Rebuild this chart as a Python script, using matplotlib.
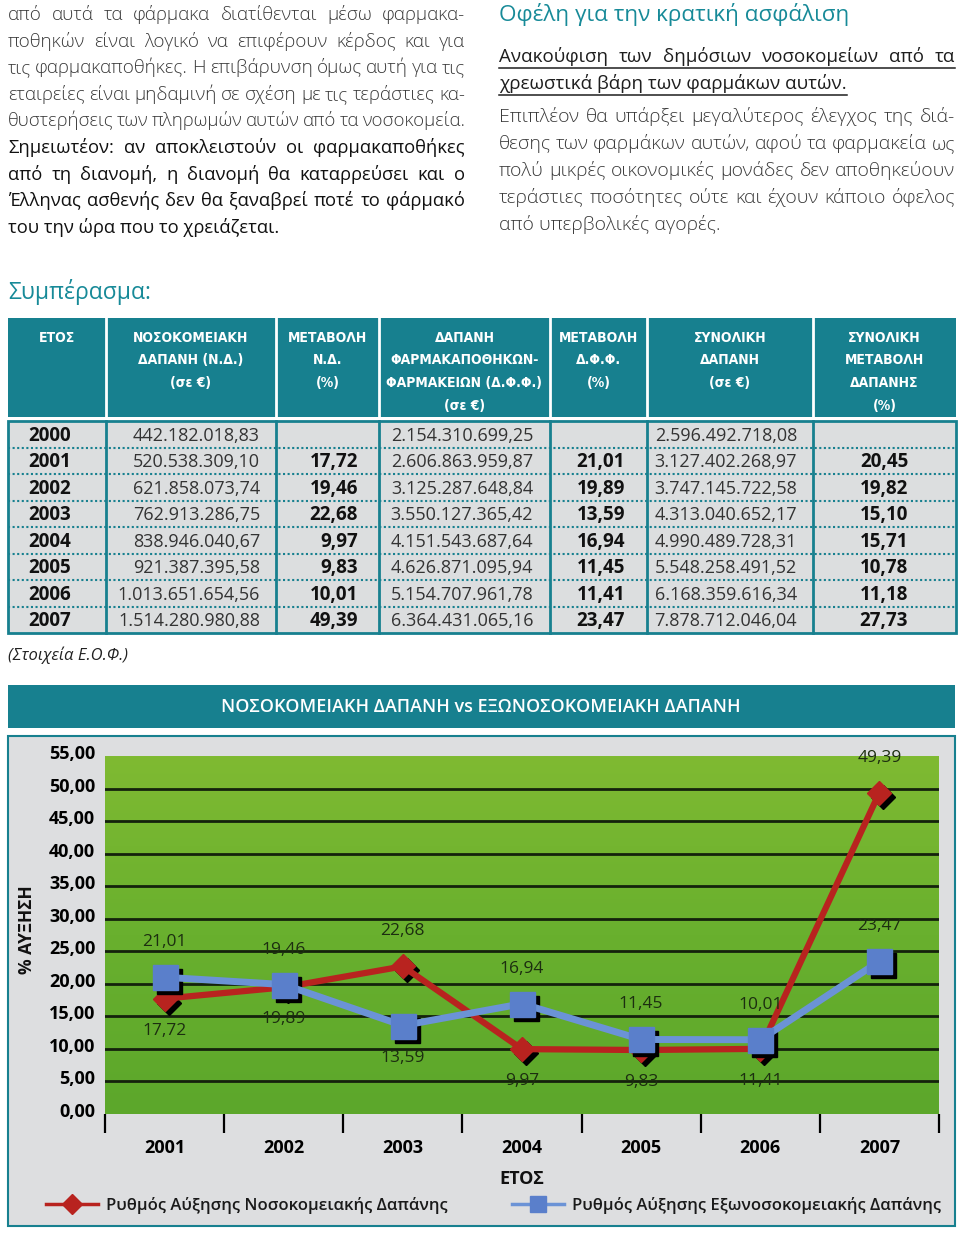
import os
import glob
import numpy as np
import matplotlib
matplotlib.use("Agg")
import matplotlib.pyplot as plt
from matplotlib import font_manager
from matplotlib.font_manager import FontProperties
from matplotlib.colors import LinearSegmentedColormap
from matplotlib.lines import Line2D
from matplotlib.patches import Rectangle
from matplotlib.transforms import offset_copy, ScaledTranslation

plt.rcParams['font.family'] = ['Open Sans', 'DejaVu Sans']

# ---------------- data ----------------
years = ['2000', '2001', '2002', '2003', '2004', '2005', '2006', '2007']
nd_spend = [442182018.83, 520538309.10, 621858073.74, 762913286.75,
            838946040.67, 921387395.58, 1013651654.56, 1514280980.88]
nd_change = [None, 17.72, 19.46, 22.68, 9.97, 9.83, 10.01, 49.39]
dff_spend = [2154310699.25, 2606863959.87, 3125287648.84, 3550127365.42,
             4151543687.64, 4626871095.94, 5154707961.78, 6364431065.16]
dff_change = [None, 21.01, 19.89, 13.59, 16.94, 11.45, 11.41, 23.47]
total_spend = [2596492718.08, 3127402268.97, 3747145722.58, 4313040652.17,
               4990489728.31, 5548258491.52, 6168359616.34, 7878712046.04]
total_change = [None, 20.45, 19.82, 15.10, 15.71, 10.78, 11.18, 27.73]

chart_years = years[1:]
red_growth = nd_change[1:]
blue_growth = dff_change[1:]
# where each value label sits (above / below the pair of points)
red_pos = ['below', 'above', 'above', 'below', 'below', 'above', 'above']
blue_pos = ['above', 'below', 'below', 'above', 'above', 'below', 'above']

header_cols = [
    'ΕΤΟΣ',
    'ΝΟΣΟΚΟΜΕΙΑΚΗ\nΔΑΠΑΝΗ (Ν.Δ.)\n(σε €)',
    'ΜΕΤΑΒΟΛΗ\nΝ.Δ.\n(%)',
    'ΔΑΠΑΝΗ\nΦΑΡΜΑΚΑΠΟΘΗΚΩΝ-\nΦΑΡΜΑΚΕΙΩΝ (Δ.Φ.Φ.)\n(σε €)',
    'ΜΕΤΑΒΟΛΗ\nΔ.Φ.Φ.\n(%)',
    'ΣΥΝΟΛΙΚΗ\nΔΑΠΑΝΗ\n(σε €)',
    'ΣΥΝΟΛΙΚΗ\nΜΕΤΑΒΟΛΗ\nΔΑΠΑΝΗΣ\n(%)',
]

left_par = [
    ('από αυτά τα φάρμακα διατίθενται μέσω φαρμακα-', 'light'),
    ('ποθηκών είναι λογικό να επιφέρουν κέρδος και για', 'light'),
    ('τις φαρμακαποθήκες. Η επιβάρυνση όμως αυτή για τις', 'light'),
    ('εταιρείες είναι μηδαμινή σε σχέση με τις τεράστιες κα-', 'light'),
    ('θυστερήσεις των πληρωμών αυτών από τα νοσοκομεία.', 'light'),
    ('Σημειωτέον: αν αποκλειστούν οι φαρμακαποθήκες', 'normal'),
    ('από τη διανομή, η διανομή θα καταρρεύσει και ο', 'normal'),
    ('Έλληνας ασθενής δεν θα ξαναβρεί ποτέ το φάρμακό', 'normal'),
    ('του την ώρα που το χρειάζεται.', 'normal'),
]
right_head = 'Οφέλη για την κρατική ασφάλιση'
right_under = ['Ανακούφιση των δημόσιων νοσοκομείων από τα',
               'χρεωστικά βάρη των φαρμάκων αυτών.']
right_par = [
    'Επιπλέον θα υπάρξει μεγαλύτερος έλεγχος της διά-',
    'θεσης των φαρμάκων αυτών, αφού τα φαρμακεία ως',
    'πολύ μικρές οικονομικές μονάδες δεν αποθηκεύουν',
    'τεράστιες ποσότητες ούτε και έχουν κάποιο όφελος',
    'από υπερβολικές αγορές.',
]

# ---------------- style ----------------
W, H = 960, 1234
TEAL = '#17808f'
HEAD_TEAL = '#178a98'
GRAY_BG = '#dcdedf'
RED = '#b8231f'
BLUE = '#5a7fcb'
BLUE_LINE = '#6b93d6'
green_cmap = LinearSegmentedColormap.from_list('grn', ['#7fba32', '#69b02e', '#5ca72b'])


def find_condensed_bold():
    wanted = ['DejaVuSansCondensed-Bold', 'NotoSans-CondensedBold', 'LiberationSansNarrow-Bold',
              'RobotoCondensed-Bold', 'OpenSans-CondBold', 'OpenSans_Condensed-Bold']
    files = [f.fname for f in font_manager.fontManager.ttflist]
    files += glob.glob('/usr/share/fonts/**/*.ttf', recursive=True)
    stems = {os.path.splitext(os.path.basename(p))[0]: p for p in files}
    for w in wanted:
        if w in stems:
            return stems[w]
    return None


cond_file = find_condensed_bold()
if cond_file:
    HEAD_PROP = FontProperties(fname=cond_file, size=10)
else:
    HEAD_PROP = FontProperties(family='Open Sans', weight='bold', size=10)


def gr_num(v, dec=2):
    s = f'{v:,.{dec}f}'
    return s.replace(',', '#').replace('.', ',').replace('#', '.')


fig = plt.figure(figsize=(9.6, 12.34), dpi=100)
page = fig.add_axes([0, 0, 1, 1])
page.set_xlim(0, W)
page.set_ylim(H, 0)
page.axis('off')
renderer = fig.canvas.get_renderer()

# size header font so the widest header line is as wide as in the page
probe = page.text(0, 0, 'ΦΑΡΜΑΚΕΙΩΝ (Δ.Φ.Φ.)', fontproperties=HEAD_PROP)
pw = probe.get_window_extent(renderer).width
probe.remove()
HEAD_PROP.set_size(min(12, 10 * 156 / pw))


def text_line(x0, x1, y, line, justify=True, **kw):
    words = line.split()
    if not justify or len(words) < 2:
        t = page.text(x0, y, line, ha='left', va='baseline', **kw)
        return t.get_window_extent(renderer).width
    objs = [page.text(x0, y, w, ha='left', va='baseline', **kw) for w in words]
    widths = [o.get_window_extent(renderer).width for o in objs]
    avail = x1 - x0
    min_gap = 3.5
    if sum(widths) + min_gap * (len(words) - 1) > avail:
        k = (avail - min_gap * (len(words) - 1)) / sum(widths)
        for o in objs:
            o.set_fontsize(o.get_fontsize() * k)
        widths = [o.get_window_extent(renderer).width for o in objs]
    gap = (avail - sum(widths)) / (len(words) - 1)
    x = x0
    for o, w in zip(objs, widths):
        o.set_x(x)
        x += w + gap
    return avail


# left column
base = 20
for i, (line, wt) in enumerate(left_par):
    col = '#3a3a3a' if wt == 'light' else '#111111'
    fs = 13.6 if wt == 'light' else 13.2
    text_line(8, 465, base + i * 26.6, line, justify=(i < len(left_par) - 1),
              fontsize=fs, weight=wt, color=col)

# right column
page.text(499, 21, right_head, ha='left', va='baseline', fontsize=16.2, color=HEAD_TEAL)
for i, line in enumerate(right_under):
    yb = 62 + i * 27
    w = text_line(499, 955, yb, line, justify=(i == 0), fontsize=13.5, color='#1e1e1e')
    page.plot([499, 499 + w], [yb + 6, yb + 6], color='#1e1e1e', lw=1.1)
for i, line in enumerate(right_par):
    text_line(499, 955, 122 + i * 27, line, justify=(i < len(right_par) - 1),
              fontsize=14, weight='light', color='#3a3a3a')

page.text(8, 299, 'Συμπέρασμα:', ha='left', va='baseline', fontsize=16.5, color=HEAD_TEAL)

# ---------------- table ----------------
edges = [8, 106, 276, 379, 550, 647, 813, 956]
page.add_patch(Rectangle((8, 318), 948, 99, facecolor=TEAL, edgecolor='none'))
for e in edges[1:-1]:
    page.plot([e, e], [318, 417], color='white', lw=2)
for j, h in enumerate(header_cols):
    cx = (edges[j] + edges[j + 1]) / 2
    for k, part in enumerate(h.split('\n')):
        page.text(cx, 342 + k * 22.5, part, ha='center', va='baseline', color='white',
                  fontproperties=HEAD_PROP)

top, bot = 421, 633
page.add_patch(Rectangle((8, top), 948, bot - top, facecolor=GRAY_BG, edgecolor=TEAL, lw=2))
for e in edges[1:-1]:
    page.plot([e, e], [top, bot], color=TEAL, lw=2)
rh = (bot - top) / len(years)
for r in range(1, len(years)):
    page.plot([8, 956], [top + r * rh] * 2, color=TEAL, lw=1.5, ls=(0, (1, 1.2)))

num_kw = dict(fontsize=13, color='#333333', va='center')
bold_kw = dict(fontsize=13.5, color='#111111', weight='bold', va='center')
for r, yr in enumerate(years):
    yc = top + (r + 0.5) * rh + 1.5
    page.text(50, yc, yr, ha='center', **bold_kw)
    page.text(260, yc, gr_num(nd_spend[r]), ha='right', **num_kw)
    page.text(533, yc, gr_num(dff_spend[r]), ha='right', **num_kw)
    page.text(797, yc, gr_num(total_spend[r]), ha='right', **num_kw)
    if nd_change[r] is not None:
        page.text(358, yc, gr_num(nd_change[r]), ha='right', **bold_kw)
        page.text(625, yc, gr_num(dff_change[r]), ha='right', **bold_kw)
        page.text(884, yc, gr_num(total_change[r]), ha='center', **bold_kw)

page.text(8, 660, '(Στοιχεία Ε.Ο.Φ.)', ha='left', va='baseline', fontsize=12,
          style='italic', color='#222222')

# ---------------- chart frame ----------------
page.add_patch(Rectangle((8, 685), 947, 43, facecolor=TEAL, edgecolor='none'))
page.text(481, 707, 'ΝΟΣΟΚΟΜΕΙΑΚΗ ΔΑΠΑΝΗ vs ΕΞΩΝΟΣΟΚΟΜΕΙΑΚΗ ΔΑΠΑΝΗ', ha='center',
          va='center', color='white', fontsize=13, weight='semibold')
page.add_patch(Rectangle((8, 736), 947, 490, facecolor='#dddee0', edgecolor=TEAL, lw=1.5))

ax = fig.add_axes([105 / W, 1 - 1114 / H, 834 / W, 358 / H])
x = np.arange(1, len(chart_years) + 1)
ax.set_xlim(0.5, len(chart_years) + 0.5)
ax.set_ylim(0, 55)
grad = np.linspace(0, 1, 256).reshape(-1, 1)
ax.imshow(grad, extent=[0.5, len(chart_years) + 0.5, 0, 55], aspect='auto',
          cmap=green_cmap, origin='upper', zorder=0)
for v in np.arange(5, 55, 5):
    ax.axhline(v, color='#14220c', lw=2, zorder=1)

# shadows
sh = offset_copy(ax.transData, fig=fig, x=4, y=-4, units='dots')
ax.plot(x, red_growth, ls='none', marker='D', ms=12.5, color='black', transform=sh, zorder=2)
ax.plot(x, red_growth, color=RED, lw=4.5, marker='D', ms=12.5, mfc=RED, mec=RED, zorder=3)
ax.plot(x, blue_growth, ls='none', marker='s', ms=18, color='black', transform=sh, zorder=4)
ax.plot(x, blue_growth, color=BLUE_LINE, lw=5, zorder=5)
ax.plot(x, blue_growth, ls='none', marker='s', ms=18, mfc=BLUE, mec=BLUE, zorder=6)

for i in range(len(x)):
    hi = max(red_growth[i], blue_growth[i])
    lo = min(red_growth[i], blue_growth[i])
    for val, pos in ((red_growth[i], red_pos[i]), (blue_growth[i], blue_pos[i])):
        if pos == 'above':
            ref = val if red_pos[i] == blue_pos[i] else hi
            dy = 35
        else:
            ref, dy = lo, -32
        ax.annotate(gr_num(val), (x[i], ref), xytext=(0, dy), textcoords='offset pixels',
                    ha='center', va='center', fontsize=12.5, weight='normal',
                    color='#1c2e10', zorder=7)

for s in ax.spines.values():
    s.set_visible(False)
ax.set_yticks(np.arange(0, 56, 5))
ax.set_yticklabels([gr_num(v) for v in np.arange(0, 56, 5)], fontsize=13, weight='bold')
ax.tick_params(axis='y', length=0, pad=7)
for lab in ax.get_yticklabels():
    lab.set_transform(lab.get_transform() + ScaledTranslation(0, 4 / 100, fig.dpi_scale_trans))
ax.set_xticks(x)
ax.set_xticklabels(chart_years, fontsize=13, weight='bold')
ax.set_xticks(np.arange(0.5, len(x) + 1, 1), minor=True)
ax.tick_params(axis='x', which='major', length=0, pad=18)
ax.tick_params(axis='x', which='minor', length=14, width=1.6, color='black', direction='out')

fig.text(27 / W, 1 - 930 / H, '% ΑΥΞΗΣΗ', rotation=90, ha='center', va='center',
         fontsize=12.5, weight='bold', color='#111111')
fig.text(522 / W, 1 - 1179 / H, 'ΕΤΟΣ', ha='center', va='center', fontsize=13,
         weight='bold', color='#111111')

h_red = Line2D([], [], color=RED, lw=2.5, marker='D', ms=10.5, mfc=RED, mec=RED)
h_blue = Line2D([], [], color=BLUE_LINE, lw=2.5, marker='s', ms=11, mfc=BLUE, mec=BLUE)
leg_kw = dict(loc='center left', bbox_transform=fig.transFigure, frameon=False,
              handlelength=3.1, handletextpad=0.5, borderpad=0, borderaxespad=0,
              prop=dict(size=12, weight='semibold'))
leg1 = ax.legend([h_red], ['Ρυθμός Αύξησης Νοσοκομειακής Δαπάνης'],
                 bbox_to_anchor=(46 / W, 1 - 1205 / H), **leg_kw)
ax.add_artist(leg1)
leg2 = ax.legend([h_blue], ['Ρυθμός Αύξησης Εξωνοσοκομειακής Δαπάνης'],
                 bbox_to_anchor=(512 / W, 1 - 1205 / H), **leg_kw)
for lg in (leg1, leg2):
    for t in lg.get_texts():
        t.set_color('#1a1a1a')

fig.savefig('out.png', dpi=100)
